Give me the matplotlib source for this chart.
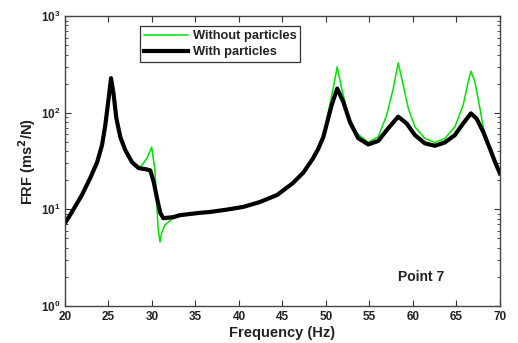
import matplotlib
matplotlib.use("Agg")
import matplotlib.pyplot as plt
from matplotlib.ticker import LogLocator, FixedLocator

plt.rcParams['font.family'] = ['Liberation Sans', 'DejaVu Sans']
plt.rcParams['font.weight'] = 'bold'
plt.rcParams['mathtext.default'] = 'bf'

# values
freq_with = [20.0, 20.8, 21.95, 22.9, 23.7, 24.25, 24.63, 25.02, 25.29, 25.6, 25.9, 26.36,
             26.93, 27.7, 28.47, 29.23, 29.8, 30.2, 30.57, 30.95, 31.3, 32.45, 33.2, 35.5,
             36.7, 38.5, 40.5, 42.4, 44.4, 46.2, 47.4, 48.5, 49.1, 49.7, 50.66, 51.3,
             51.99, 52.76, 53.71, 54.86, 56.01, 57.16, 58.31, 59.28, 60.23, 61.38, 62.53, 63.68,
             64.83, 65.78, 66.67, 67.32, 68.08, 68.85, 69.43, 70.0]
frf_with = [7.2, 9.4, 14.1, 21.1, 30.8, 46, 74, 142, 228, 152, 88, 56,
            41, 30.8, 26.7, 26.1, 25.3, 19.2, 13.1, 9.2, 8.1, 8.3, 8.7, 9.2,
            9.4, 9.9, 10.6, 11.9, 14.1, 18.7, 24, 33.5, 42, 56, 120, 178,
            130, 80, 54.6, 47, 51, 69, 91, 77.5, 58.7, 48.2, 45.5, 49.3,
            58.7, 77.5, 98.4, 87, 63.5, 42.7, 31.1, 23.6]

freq_without = [20.0, 20.8, 21.95, 22.9, 23.7, 24.25, 24.63, 25.02, 25.29, 25.6, 25.9, 26.36,
                26.93, 27.7, 28.47, 28.85, 29.43, 29.97, 30.34, 30.54, 30.72, 30.92, 31.11, 31.49,
                32.26, 33.2, 34.0, 35.5, 36.7, 38.5, 40.5, 42.4, 44.4, 46.2, 47.4, 48.5,
                49.1, 49.7, 50.84, 51.3, 51.8, 52.56, 53.53, 54.86, 56.01, 56.98, 57.74, 58.31,
                58.89, 59.46, 60.23, 61.38, 62.53, 63.68, 64.83, 65.78, 66.36, 66.67, 67.13, 67.7,
                68.08, 68.85, 69.43, 70.0]
frf_without = [7.2, 9.4, 14.1, 21.1, 30.8, 46, 74, 142, 228, 152, 88, 56,
               41, 30.8, 26.7, 28.7, 33.9, 44, 25.5, 11.6, 6.1, 4.6, 5.7, 6.9,
               7.9, 8.5, 8.9, 9.2, 9.4, 9.9, 10.6, 11.9, 14.1, 18.7, 24, 33.5,
               42, 56, 180, 298, 180, 94, 61.5, 49.3, 56.3, 94, 178, 328,
               193, 112, 71.5, 54.2, 49.3, 54.2, 71.5, 120, 209, 269, 209, 112,
               71.5, 42.7, 31.1, 23.6]

fig, ax = plt.subplots(figsize=(5.18, 3.43), dpi=100)
fig.subplots_adjust(left=0.1255, right=0.965, top=0.953, bottom=0.108)

ax.semilogy(freq_without, frf_without, color='#00e000', lw=1.1, label='Without particles')
ax.semilogy(freq_with, frf_with, color='black', lw=3.0, label='With particles')

ax.set_xlim(20, 70)
ax.set_ylim(1, 1000)
ax.xaxis.set_major_locator(FixedLocator(range(20, 71, 5)))
ax.yaxis.set_major_locator(LogLocator(base=10))
ax.yaxis.set_minor_locator(LogLocator(base=10, subs=range(2, 10)))
ax.tick_params(which='both', direction='in', top=True, right=True,
               labelsize=8.5, colors='#333333', labelcolor='#222222')
ax.tick_params(which='major', length=4)
ax.tick_params(which='minor', length=2.5)
for s in ax.spines.values():
    s.set_color('#444444')
    s.set_linewidth(1.0)

ax.set_xlabel('Frequency (Hz)', fontsize=10.5, fontweight='bold', color='#222222', labelpad=2)
ax.set_ylabel('FRF (ms$^2$/N)', fontsize=10.5, fontweight='bold', color='#222222', labelpad=2)

ax.text(0.766, 0.085, 'Point 7', transform=ax.transAxes, fontsize=10,
        fontweight='bold', color='#222222')

leg = ax.legend(loc='upper left', bbox_to_anchor=(0.172, 0.965), fancybox=False,
                framealpha=1, edgecolor='#333333', fontsize=9.3, handlelength=3.4,
                borderpad=0.3, labelspacing=0.3, handletextpad=0.4, borderaxespad=0)
leg.get_frame().set_linewidth(0.9)
for t in leg.get_texts():
    t.set_fontweight('bold')
    t.set_color('#222222')

fig.savefig('out.png', dpi=100)
